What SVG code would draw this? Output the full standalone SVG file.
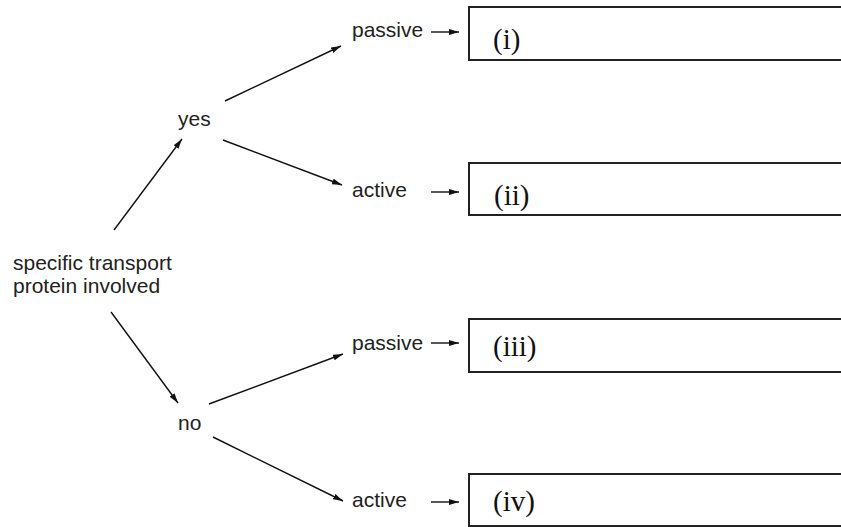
<svg xmlns="http://www.w3.org/2000/svg" width="841" height="527" viewBox="0 0 841 527">
<defs>
<marker id="ah" viewBox="0 0 10 6" refX="10" refY="3" markerWidth="10" markerHeight="6" markerUnits="userSpaceOnUse" orient="auto">
<path d="M0,0 L10,3 L0,6 Z" fill="#111"/>
</marker>
<style>
.lbl{font-family:"Liberation Sans",Arial,sans-serif;font-size:21px;fill:#222}
.num{font-family:"Liberation Serif","Times New Roman",serif;font-size:29px;fill:#111}
.box{fill:#fff;stroke:#222;stroke-width:2}
.con{stroke:#111;stroke-width:1.4;fill:none;marker-end:url(#ah)}
</style>
</defs>
<g id="connectors">
<line class="con" x1="114" y1="230" x2="182" y2="139"/>
<line class="con" x1="225" y1="101" x2="341" y2="46"/>
<line class="con" x1="223" y1="140" x2="342" y2="185"/>
<line class="con" x1="111" y1="312" x2="178" y2="403"/>
<line class="con" x1="209" y1="404" x2="343" y2="354"/>
<line class="con" x1="213" y1="437" x2="343" y2="501"/>
<line class="con" x1="431" y1="32" x2="459" y2="32"/>
<line class="con" x1="431" y1="192" x2="459" y2="192"/>
<line class="con" x1="431" y1="343" x2="459" y2="343"/>
<line class="con" x1="431" y1="502" x2="459" y2="502"/>
</g>
<g id="start"><text class="lbl" x="13" y="270">specific transport</text><text class="lbl" x="13" y="293">protein involved</text></g>
<g id="yes"><text class="lbl" x="178" y="126">yes</text></g>
<g id="no"><text class="lbl" x="178" y="430">no</text></g>
<g id="passive1"><text class="lbl" x="352" y="37">passive</text></g>
<g id="active1"><text class="lbl" x="352" y="197">active</text></g>
<g id="passive2"><text class="lbl" x="352" y="350">passive</text></g>
<g id="active2"><text class="lbl" x="352" y="507">active</text></g>
<g id="box1"><rect class="box" x="469" y="7" width="390" height="53"/><text class="num" x="493" y="49">(i)</text></g>
<g id="box2"><rect class="box" x="469" y="163" width="390" height="52"/><text class="num" x="494" y="205">(ii)</text></g>
<g id="box3"><rect class="box" x="469" y="319" width="390" height="53"/><text class="num" x="493" y="356">(iii)</text></g>
<g id="box4"><rect class="box" x="469" y="474" width="390" height="52"/><text class="num" x="493" y="511">(iv)</text></g>
</svg>
